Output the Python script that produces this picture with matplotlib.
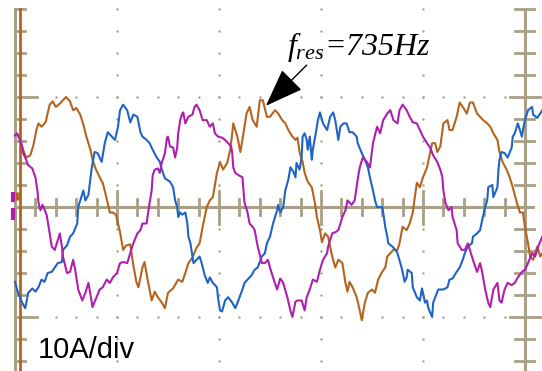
import numpy as np
import matplotlib
matplotlib.use('Agg')
import matplotlib.pyplot as plt

plt.rcParams['mathtext.fontset'] = 'custom'
plt.rcParams['mathtext.it'] = 'Liberation Serif:italic'
plt.rcParams['mathtext.rm'] = 'Liberation Serif'

# time in ms, current in A (10 A/div, 10 ms/div)
t_orange = [0.3, 0.5, 0.8, 1.1, 1.5, 1.8, 2.1, 2.3, 2.6, 3.0, 3.4, 3.7, 4.0, 4.4, 4.7, 5.0, 5.4, 5.7, 6.0, 6.4,
            6.7, 7.0, 7.4, 7.6, 7.9, 8.3, 8.6, 8.9, 9.3, 9.6, 9.9, 10.3, 10.6, 10.9, 11.3, 11.6, 11.9, 12.1, 12.5, 12.7,
            13.0, 13.4, 13.7, 14.0, 14.4, 14.7, 15.0, 15.5, 16.0, 16.4, 16.7, 17.0, 17.4, 17.8, 18.1, 18.4, 18.8, 19.1, 19.4, 19.8,
            20.1, 20.4, 20.8, 21.1, 21.3, 21.4, 21.8, 22.1, 22.4, 22.7, 23.0, 23.3, 23.7, 24.0, 24.3, 24.7, 25.0, 25.5, 25.8, 26.2,
            26.5, 26.8, 27.2, 27.5, 27.7, 27.9, 28.2, 28.4, 28.7, 29.1, 29.4, 29.6, 29.9, 30.1, 30.4, 30.7, 31.1, 31.4, 31.7, 32.1,
            32.4, 32.6, 32.8, 33.1, 33.5, 33.8, 34.0, 34.3, 34.6, 35.0, 35.3, 35.6, 36.0, 36.3, 36.5, 36.8, 37.1, 37.5, 37.7, 38.0,
            38.4, 38.7, 39.0, 39.2, 39.4, 39.7, 40.0, 40.4, 40.7, 40.9, 41.2, 41.4, 41.7, 42.0, 42.4, 42.6, 42.9, 43.3, 43.6, 43.9,
            44.3, 44.6, 44.9, 45.3, 45.6, 45.9, 46.3, 46.6, 46.9, 47.3, 47.5, 47.8, 48.2, 48.5, 48.8, 49.2, 49.5, 49.8, 50.0, 50.3,
            50.5, 50.8, 51.2, 51.5, 51.7]
i_orange = [6.5, 6.1, 5.2, 4.5, 4.7, 5.6, 7.0, 7.6, 7.3, 7.7, 9.3, 9.6, 9.1, 9.4, 9.7, 10.0, 9.6, 8.8, 9.0, 8.4,
            7.5, 6.4, 5.2, 4.3, 3.5, 2.7, 2.2, 1.1, -0.5, -0.5, -0.7, -2.3, -3.9, -3.5, -3.4, -5.3, -6.8, -7.3, -5.5, -5.0,
            -6.6, -8.5, -7.7, -8.2, -8.7, -9.2, -7.8, -7.4, -6.6, -6.8, -6.0, -5.1, -4.6, -3.7, -3.3, -1.8, 0.0, 0.6, 0.9, 3.1,
            4.1, 3.4, 4.0, 5.2, 6.7, 7.6, 6.4, 5.0, 6.7, 8.5, 9.1, 7.9, 7.3, 9.7, 9.7, 8.2, 8.2, 8.8, 8.5, 7.9,
            7.6, 7.0, 6.4, 6.1, 6.3, 5.0, 4.1, 3.1, 2.3, 1.8, 0.4, -0.9, -2.1, -3.2, -2.4, -2.7, -4.5, -5.5, -4.8, -5.1,
            -6.9, -7.7, -6.8, -7.3, -8.2, -9.4, -10.3, -8.7, -7.8, -7.5, -7.8, -6.6, -5.9, -5.5, -4.5, -4.2, -3.9, -3.9, -3.3, -1.8,
            -2.1, -1.5, -0.5, 0.9, 2.2, 1.8, 2.7, 3.6, 4.9, 5.8, 5.8, 5.0, 5.5, 7.6, 7.9, 7.0, 7.0, 8.2, 9.5, 9.1,
            8.5, 9.5, 9.5, 8.5, 8.2, 7.9, 7.6, 7.3, 6.7, 6.1, 5.0, 4.1, 3.4, 2.7, 1.8, 0.4, -0.5, -0.5, -1.8, -3.3,
            -4.5, -4.8, -3.6, -4.5, -4.2]

t_blue = [0.0, 0.3, 0.7, 1.0, 1.3, 1.7, 2.0, 2.3, 2.6, 2.9, 3.2, 3.6, 3.9, 4.2, 4.6, 4.7, 5.1, 5.4, 5.7, 6.1,
          6.2, 6.4, 6.7, 6.9, 7.2, 7.5, 7.8, 8.1, 8.5, 8.8, 9.1, 9.5, 9.8, 10.1, 10.3, 10.6, 11.0, 11.3, 11.6, 12.0,
          12.3, 12.5, 12.9, 13.2, 13.5, 13.9, 14.2, 14.4, 14.7, 15.2, 15.5, 15.7, 15.9, 16.0, 16.2, 16.4, 16.7, 16.9, 17.0, 17.2,
          17.4, 17.5, 17.8, 18.1, 18.3, 18.6, 18.9, 19.1, 19.4, 19.8, 19.9, 20.1, 20.3, 20.6, 20.9, 21.3, 21.6, 21.9, 22.3, 22.5,
          22.8, 23.2, 23.5, 23.8, 24.2, 24.5, 24.7, 25.0, 25.3, 25.7, 25.8, 26.0, 26.3, 26.5, 26.8, 27.0, 27.3, 27.5, 27.6, 27.9,
          28.1, 28.2, 28.4, 28.6, 28.7, 28.9, 29.1, 29.2, 29.6, 29.7, 29.9, 30.2, 30.6, 30.9, 31.2, 31.4, 31.7, 31.9, 32.2, 32.5,
          32.8, 33.1, 33.5, 33.6, 34.0, 34.3, 34.6, 34.8, 35.1, 35.3, 35.5, 36.0, 36.1, 36.3, 36.5, 36.6, 37.0, 37.3, 37.5, 37.9,
          38.0, 38.2, 38.4, 38.5, 38.9, 39.0, 39.4, 39.7, 39.9, 40.0, 40.2, 40.4, 40.5, 40.7, 40.9, 41.0, 41.2, 41.5, 42.0, 42.4,
          42.6, 42.9, 43.3, 43.6, 43.9, 44.1, 44.4, 44.8, 44.9, 45.3, 45.6, 45.8, 46.1, 46.3, 46.4, 46.8, 46.9, 47.3, 47.4, 47.5,
          47.7, 48.0, 48.3, 48.7, 48.8, 49.0, 49.2, 49.3, 49.7, 49.8, 50.0, 50.3, 50.7, 50.8, 51.2, 51.5, 51.7]
i_blue = [-6.8, -7.8, -8.7, -9.2, -7.8, -7.4, -7.7, -7.3, -6.6, -6.8, -6.0, -5.9, -5.5, -5.1, -5.0, -3.9, -3.5, -2.7, -2.4, -1.5,
          0.0, 0.6, 1.5, 0.6, 1.1, 3.4, 5.0, 4.9, 4.1, 5.8, 6.8, 6.4, 6.1, 7.3, 8.8, 9.3, 8.8, 7.7, 8.4, 8.2,
          6.8, 6.4, 6.1, 5.8, 5.2, 4.5, 4.1, 3.4, 2.6, 2.3, 1.8, 0.6, 0.0, -0.9, -0.5, -0.7, -0.5, -1.5, -2.7, -3.3,
          -4.5, -5.1, -4.8, -4.5, -5.1, -6.2, -6.9, -6.4, -6.9, -7.3, -8.2, -9.4, -9.5, -8.5, -8.2, -8.7, -9.2, -8.5, -7.5, -6.9,
          -6.6, -6.2, -5.7, -5.5, -4.5, -4.2, -3.3, -2.7, -1.5, -0.3, 0.2, -0.5, 0.0, 1.5, 2.5, 3.6, 3.2, 2.7, 4.0, 3.4,
          4.5, 6.4, 6.7, 6.1, 5.2, 6.4, 4.3, 5.2, 7.3, 7.9, 8.6, 7.6, 7.0, 8.2, 8.6, 7.9, 6.1, 7.3, 7.6, 7.6,
          6.8, 6.8, 6.4, 5.8, 4.9, 4.3, 3.6, 2.7, 1.5, 0.6, 0.0, 0.0, -0.5, -1.8, -2.7, -3.3, -3.6, -3.9, -4.2, -5.5,
          -5.9, -6.8, -6.4, -5.7, -6.0, -7.3, -8.2, -8.5, -7.4, -7.8, -8.7, -8.5, -9.1, -9.6, -10.0, -8.7, -8.2, -7.5, -7.5, -7.3,
          -6.6, -6.5, -5.9, -5.5, -4.8, -4.2, -3.6, -3.3, -2.7, -2.4, -2.1, -1.2, 0.0, 0.6, 1.8, 2.0, 0.9, 1.8, 3.4, 4.3,
          5.0, 4.9, 4.5, 5.4, 6.4, 6.7, 7.3, 7.6, 6.4, 7.0, 7.9, 8.8, 9.1, 8.4, 8.1, 8.5, 8.8]

t_magenta = [0.0, 0.2, 0.5, 0.7, 0.8, 1.0, 1.3, 1.7, 2.0, 2.2, 2.3, 2.5, 2.7, 3.1, 3.4, 3.6, 3.9, 4.2, 4.4, 4.6,
             4.7, 5.1, 5.4, 5.7, 5.9, 6.2, 6.6, 6.9, 7.2, 7.5, 7.6, 8.0, 8.3, 8.6, 9.0, 9.3, 9.6, 10.0, 10.3, 10.6,
             11.0, 11.3, 11.6, 12.0, 12.3, 12.5, 12.9, 13.2, 13.4, 13.5, 13.7, 14.0, 14.2, 14.4, 14.5, 14.7, 14.9, 15.0, 15.2, 15.5,
             15.7, 15.9, 16.0, 16.2, 16.4, 16.5, 16.7, 17.0, 17.4, 17.6, 17.8, 18.1, 18.4, 18.8, 19.1, 19.4, 19.6, 19.9, 20.3, 20.6,
             20.9, 21.2, 21.3, 21.4, 21.6, 21.9, 22.3, 22.5, 22.8, 23.0, 23.3, 23.5, 23.8, 24.2, 24.5, 24.8, 25.0, 25.3, 25.7, 26.0,
             26.3, 26.7, 27.0, 27.2, 27.5, 27.7, 28.1, 28.4, 28.6, 28.9, 29.2, 29.6, 29.9, 30.2, 30.6, 30.7, 31.1, 31.4, 31.7, 32.1,
             32.4, 32.6, 33.0, 33.3, 33.6, 33.8, 34.1, 34.5, 34.8, 35.1, 35.5, 35.8, 36.1, 36.5, 36.8, 37.1, 37.5, 37.7, 38.0, 38.4,
             38.7, 39.0, 39.4, 39.7, 40.0, 40.4, 40.7, 41.0, 41.4, 41.7, 41.9, 42.0, 42.2, 42.5, 42.8, 42.9, 43.3, 43.4, 43.8, 44.1,
             44.4, 44.6, 44.9, 45.3, 45.6, 45.8, 46.1, 46.4, 46.6, 46.9, 47.3, 47.5, 47.7, 48.0, 48.3, 48.7, 49.0, 49.3, 49.7, 50.0,
             50.3, 50.7, 51.0, 51.3, 51.7]
i_magenta = [6.5, 6.7, 6.1, 5.5, 4.9, 4.5, 3.8, 3.5, 2.7, 1.5, 0.4, -0.3, 0.2, -0.7, -2.4, -3.6, -3.9, -3.0, -2.4, -3.6,
             -4.5, -6.0, -5.9, -4.8, -5.7, -7.5, -8.5, -7.8, -6.9, -8.5, -9.1, -8.2, -7.5, -7.3, -6.6, -6.9, -6.4, -6.0, -5.1, -5.0,
             -5.1, -4.2, -3.3, -2.4, -2.1, -1.5, -1.5, 0.4, 1.5, 2.9, 3.4, 3.5, 3.1, 4.1, 4.3, 4.9, 6.3, 6.4, 5.5, 5.4,
             4.5, 5.4, 6.7, 7.9, 8.5, 8.6, 7.6, 8.2, 8.4, 9.1, 9.3, 8.8, 7.9, 7.9, 7.3, 7.6, 6.7, 6.4, 6.3, 6.1,
             5.8, 5.5, 4.9, 3.6, 3.1, 2.9, 2.7, 0.4, -0.5, -1.5, -1.8, -2.1, -3.6, -5.1, -5.1, -4.8, -5.5, -6.4, -7.5, -6.5,
             -6.9, -8.2, -9.4, -10.0, -8.6, -8.5, -8.5, -9.4, -8.2, -7.5, -6.6, -6.8, -5.7, -4.8, -4.2, -3.6, -2.4, -2.3, -2.1, -0.9,
             -0.3, 0.6, 0.2, 0.6, 2.5, 3.6, 4.5, 4.1, 3.6, 5.8, 7.3, 6.7, 7.9, 8.5, 8.8, 7.9, 7.6, 8.8, 9.3, 8.8,
             8.2, 7.7, 7.6, 7.0, 6.4, 5.8, 5.4, 4.7, 4.1, 3.4, 2.7, 1.5, 0.4, -0.3, 0.0, -0.9, -2.1, -3.3, -3.9, -3.9,
             -3.3, -3.9, -4.8, -5.9, -5.1, -5.9, -7.5, -8.7, -9.1, -7.5, -6.9, -8.5, -8.7, -7.5, -6.9, -7.1, -6.9, -6.4, -5.9, -5.7,
             -5.1, -4.2, -4.5, -3.6, -2.7]

c_orange = '#b4641e'
c_blue = '#1e64c8'
c_magenta = '#af1faf'
grid_c = '#a89f85'

fig = plt.figure(figsize=(5.42, 3.71), dpi=100)
ax = fig.add_axes([0, 0, 1, 1])
ax.set_xlim(-1.47, 51.67)
ax.set_ylim(-14.91, 18.82)
ax.axis('off')

# ---- scope graticule ----
ax.plot([0, 0], [-16, 18], color=grid_c, lw=2.2, zorder=1)
ax.plot([50, 50], [-16, 18], color=grid_c, lw=2.2, zorder=1)
ax.plot([0, 50.8], [0, 0], color=grid_c, lw=2.2, zorder=1)
for v in np.arange(-14, 19, 2):
    if v == 0:
        continue
    if abs(v) == 10:
        ax.plot([0, 2.2], [v, v], color=grid_c, lw=2, zorder=1)
        ax.plot([48.5, 51.5], [v, v], color=grid_c, lw=2, zorder=1)
    else:
        ax.plot([0, 1.0], [v, v], color=grid_c, lw=2, zorder=1)
        ax.plot([49.0, 50.9], [v, v], color=grid_c, lw=2, zorder=1)
for h in np.arange(2, 50, 2):
    if h % 10 == 0:
        ax.plot([h, h], [-1.5, 1.5], color=grid_c, lw=2, zorder=1)
    else:
        ax.plot([h, h], [-0.75, 0.75], color=grid_c, lw=2, zorder=1)
# dotted grid
for h in [10, 20, 30, 40]:
    yy = np.arange(-14, 19, 2)
    ax.scatter(np.full(len(yy), h), yy, s=3, color=grid_c, lw=0, zorder=1)
for v in [10, -10]:
    xx = np.arange(4, 49, 2)
    ax.scatter(xx, np.full(len(xx), v), s=3, color=grid_c, lw=0, zorder=1)

# trigger cursor and channel markers
ax.plot([0.45, 0.45], [-16, 18], color=c_orange, lw=2, zorder=2)
ax.plot([-0.15, -0.15], [0.45, 1.4], color=c_magenta, lw=3, solid_capstyle='butt', zorder=2)
ax.plot([-0.15, -0.15], [-0.1, -1.2], color=c_magenta, lw=3, solid_capstyle='butt', zorder=2)
ax.plot([0.15, 0.15], [0.6, 1.4], color=c_orange, lw=2.5, solid_capstyle='butt', zorder=2)

# ---- phase currents ----
ax.plot(t_orange, i_orange, color=c_orange, lw=1.5, zorder=3)
ax.plot(t_blue, i_blue, color=c_blue, lw=1.5, zorder=3)
ax.plot(t_magenta, i_magenta, color=c_magenta, lw=1.5, zorder=3)

# ---- annotations ----
ax.annotate('', xy=(24.6, 9.2), xytext=(28.6, 12.9),
            arrowprops=dict(arrowstyle='-|>,head_length=1.35,head_width=0.5',
                            color='black', lw=1, mutation_scale=18,
                            shrinkA=0, shrinkB=0), zorder=4)
ax.text(26.7, 13.8, r'$f_{res}$=735Hz', fontsize=23, family='Liberation Serif',
        style='italic', ha='left', va='baseline', zorder=4)
ax.text(2.25, -13.7, '10A/div', fontsize=21, family='Liberation Sans', ha='left', va='baseline', zorder=4)

plt.savefig('out.png', dpi=100)
